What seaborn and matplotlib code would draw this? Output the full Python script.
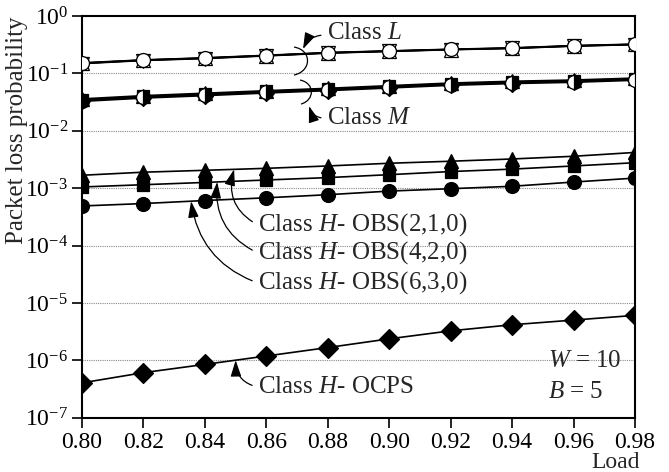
import numpy as np
import matplotlib
matplotlib.use("Agg")
import matplotlib.pyplot as plt
import seaborn as sns
from matplotlib.path import Path
from matplotlib.patches import PathPatch
from matplotlib.ticker import FixedLocator, LogFormatterMathtext, NullLocator

# ---- data -------------------------------------------------------------
load = [0.80, 0.82, 0.84, 0.86, 0.88, 0.90, 0.92, 0.94, 0.96, 0.98]

# Class L (low priority)
L_obs210 = [0.153, 0.172, 0.187, 0.207, 0.231, 0.247, 0.264, 0.279, 0.305, 0.324]
L_obs420 = [0.150, 0.170, 0.184, 0.204, 0.228, 0.244, 0.261, 0.275, 0.301, 0.320]
L_obs630 = [0.148, 0.168, 0.182, 0.202, 0.226, 0.242, 0.259, 0.273, 0.299, 0.318]
L_ocps   = [0.151, 0.171, 0.185, 0.205, 0.229, 0.245, 0.262, 0.276, 0.303, 0.321]

# Class M (medium priority)
M_obs210 = [0.0360, 0.0410, 0.0452, 0.0500, 0.0550, 0.0612, 0.0680, 0.0730, 0.0768, 0.0830]
M_obs420 = [0.0348, 0.0398, 0.0438, 0.0486, 0.0534, 0.0594, 0.0661, 0.0709, 0.0746, 0.0808]
M_obs630 = [0.0336, 0.0384, 0.0423, 0.0470, 0.0517, 0.0575, 0.0640, 0.0686, 0.0722, 0.0782]
M_ocps   = [0.0326, 0.0372, 0.0410, 0.0456, 0.0501, 0.0558, 0.0621, 0.0666, 0.0701, 0.0760]

# Class H (high priority)
H_obs210 = [1.68e-3, 1.90e-3, 2.05e-3, 2.22e-3, 2.44e-3, 2.72e-3, 2.95e-3, 3.23e-3, 3.60e-3, 4.20e-3]
H_obs420 = [1.05e-3, 1.15e-3, 1.26e-3, 1.39e-3, 1.53e-3, 1.72e-3, 1.95e-3, 2.15e-3, 2.44e-3, 2.78e-3]
H_obs630 = [4.9e-4, 5.4e-4, 6.1e-4, 6.8e-4, 7.7e-4, 8.9e-4, 9.8e-4, 1.08e-3, 1.28e-3, 1.50e-3]
H_ocps   = [4.05e-7, 6.1e-7, 8.5e-7, 1.19e-6, 1.67e-6, 2.37e-6, 3.27e-6, 4.17e-6, 5.03e-6, 6.08e-6]

x_ticks = [0.80, 0.82, 0.84, 0.86, 0.88, 0.90, 0.92, 0.94, 0.96, 0.98]
x_tick_labels = ["0.80", "0.82", "0.84", "0.86", "0.88", "0.90", "0.92", "0.94", "0.96", "0.98"]
y_ticks = [1e-7, 1e-6, 1e-5, 1e-4, 1e-3, 1e-2, 1e-1, 1e0]

# ---- style ------------------------------------------------------------
sns.set_style("ticks")
plt.rcParams["font.family"] = ["Liberation Serif", "DejaVu Serif"]
plt.rcParams["mathtext.fontset"] = "custom"
plt.rcParams["mathtext.rm"] = "Liberation Serif"
plt.rcParams["mathtext.it"] = "Liberation Serif:italic"
plt.rcParams["mathtext.bf"] = "Liberation Serif:bold"

FS = 17

fig = plt.figure(figsize=(6.69, 4.72), dpi=100)
ax = fig.add_axes([0.1226, 0.115, 0.8266, 0.851])
ax.set_yscale("log")

# decade grid
for yv in y_ticks[1:-1]:
    ax.axhline(yv, color="#888888", lw=0.8, ls=(0, (1, 1)), zorder=0)

def draw(vals, marker, ms=10, face="black", **kw):
    sns.lineplot(x=load, y=vals, ax=ax, color="black", lw=1.2,
                 marker=marker, markersize=ms, markerfacecolor=face,
                 markeredgecolor="black", markeredgewidth=0.9,
                 clip_on=True, zorder=3, **kw)

# Class L: open markers
draw(L_obs630, "v", ms=10, face="white")
draw(L_obs420, "^", ms=10, face="white")
draw(L_obs210, "h", ms=10, face="white")
draw(L_ocps, "o", ms=10, face="white")

# Class M: mixed markers
draw(M_obs210, "^", ms=10, face="white")
draw(M_obs420, "s", ms=9)
draw(M_ocps, "D", ms=8.5)
draw(M_obs630, "o", ms=10, face="black", fillstyle="right",
     markerfacecoloralt="white")

# Class H
draw(H_obs420, "s", ms=9)
draw(H_obs210, "^", ms=10)
draw(H_obs630, "o", ms=10)
draw(H_ocps, "D", ms=10)

# ---- axes -------------------------------------------------------------
ax.set_xlim(0.80, 0.98)
ax.set_ylim(1e-7, 1e0)
ax.xaxis.set_major_locator(FixedLocator(x_ticks))
ax.set_xticklabels(x_tick_labels)
ax.yaxis.set_major_locator(FixedLocator(y_ticks))
ax.yaxis.set_major_formatter(LogFormatterMathtext())
ax.yaxis.set_minor_locator(NullLocator())
ax.tick_params(axis="both", direction="out", length=7, width=1.2,
               labelsize=FS, pad=3, colors="black")
for s in ax.spines.values():
    s.set_linewidth(1.5)
    s.set_color("black")
    s.set_visible(True)

ax.set_ylabel("Packet loss probability", fontsize=FS + 1)
ax.yaxis.set_label_coords(-0.098, 0.715)
ax.set_xlabel("Load", fontsize=FS)
ax.xaxis.label.set_ha("right")
ax.xaxis.label.set_va("center")
ax.xaxis.set_label_coords(1.008, -0.112)

# ---- annotations ------------------------------------------------------
arrow = dict(arrowstyle="-|>,head_length=0.55,head_width=0.18",
             color="black", lw=0.9, shrinkA=2, shrinkB=0)

def px(xp, yp):
    """pixel position inside the figure -> axes fraction"""
    return ((xp - 82) / 553.0, (417.7 - yp) / 401.7)

def brace(p0, p1, p2, p3):
    verts = [px(*p0), px(*p1), px(*p2), px(*p3)]
    codes = [Path.MOVETO, Path.CURVE4, Path.CURVE4, Path.CURVE4]
    ax.add_patch(PathPatch(Path(verts, codes), fc="none", ec="black",
                           lw=0.9, transform=ax.transAxes, zorder=4))

brace((294, 47), (312, 50), (312, 71), (294, 75))
brace((300, 80), (315, 83), (315, 100), (301, 104))

ax.annotate("Class $L$", xy=px(303, 49), xycoords="axes fraction",
            xytext=px(327, 33), textcoords="axes fraction",
            ha="left", va="center", fontsize=FS + 1,
            arrowprops=dict(arrow, relpos=(0, 0.4),
                            connectionstyle="arc3,rad=0.35"))
ax.annotate("Class $M$", xy=px(309, 106), xycoords="axes fraction",
            xytext=px(327, 118), textcoords="axes fraction",
            ha="left", va="center", fontsize=FS + 1,
            arrowprops=dict(arrow, relpos=(0, 0.5),
                            connectionstyle="arc3,rad=-0.4"))

h_labels = [
    ("Class $H$- OBS(2,1,0)", 0.8495, H_obs210, 225, -0.4),
    ("Class $H$- OBS(4,2,0)", 0.8440, H_obs420, 253, -0.35),
    ("Class $H$- OBS(6,3,0)", 0.8355, H_obs630, 283, -0.3),
    ("Class $H$- OCPS", 0.8500, H_ocps, 387, -0.4),
]
for text, xa, series, ty, rad in h_labels:
    ya = np.exp(np.interp(xa, load, np.log(series)))
    ax.annotate(text, xy=(xa, ya), xycoords="data",
                xytext=px(258, ty), textcoords="axes fraction",
                ha="left", va="center", fontsize=FS + 1,
                arrowprops=dict(arrow, relpos=(0, 0.5),
                                connectionstyle=f"arc3,rad={rad}"))

ax.text(*px(548, 361), "$W$ = 10", transform=ax.transAxes,
        ha="left", va="center", fontsize=FS + 1)
ax.text(*px(548, 392), "$B$ = 5", transform=ax.transAxes,
        ha="left", va="center", fontsize=FS + 1)

fig.savefig("out.png", dpi=100, facecolor="white")
